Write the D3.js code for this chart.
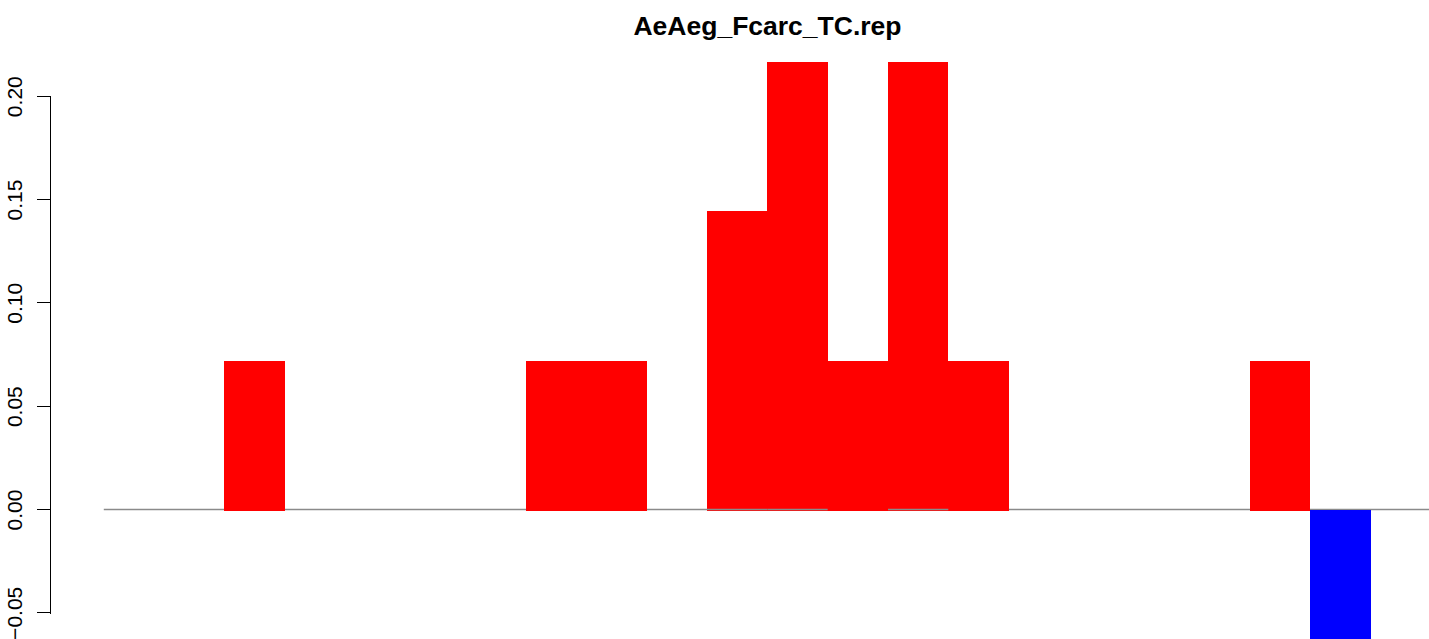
<!DOCTYPE html>
<html>
<head>
<meta charset="utf-8">
<script src="https://cdn.jsdelivr.net/npm/d3@7"></script>
<style>
  html, body { margin: 0; padding: 0; background: #fff; }
  svg { display: block; }
</style>
</head>
<body>
<svg id="chart" width="1429" height="639"></svg>
<script>
// ---- data ----
const title = "AeAeg_Fcarc_TC.rep";
const categories = d3.range(22).map(i => "b" + (i + 1));
const values = [0, 0, 0.0722, 0, 0, 0, 0, 0.0722, 0.0722, 0, 0.1445, 0.2167, 0.0722, 0.2167, 0.0722, 0, 0, 0, 0, 0.0722, -0.0725, 0];
const yTicks = [-0.05, 0, 0.05, 0.10, 0.15, 0.20];
const yTickLabels = ["\u22120.05", "0.00", "0.05", "0.10", "0.15", "0.20"];
const lineOverBars = [10, 11, 13];
const posColor = "#ff0000";
const negColor = "#0000ff";

// ---- layout ----
const svg = d3.select("#chart");

const x = d3.scaleLinear().domain([-0.88, categories.length + 0.88]).range([50.7, 1484]);
const y = d3.scaleLinear().domain([0, 0.2]).range([510, 96.7]);
const zeroLineY = Math.round(y(0)) - 0.5;

// zero line
svg.append("line")
  .attr("x1", x(0)).attr("x2", x(categories.length))
  .attr("y1", zeroLineY).attr("y2", zeroLineY)
  .attr("stroke", "#8a8a8a").attr("stroke-width", 1.3);

// bars
svg.append("g").selectAll("rect")
  .data(values.map((v, i) => ({ v, i })).filter(d => d.v !== 0))
  .join("rect")
  .attr("x", d => x(d.i))
  .attr("width", d => x(d.i + 1) - x(d.i))
  .attr("y", d => d.v >= 0 ? y(d.v) : y(0) - 0.4)
  .attr("height", d => d.v >= 0 ? y(0) + 0.7 - y(d.v) : y(d.v) - y(0) + 0.4)
  .attr("fill", d => d.v >= 0 ? posColor : negColor)
  .attr("shape-rendering", "crispEdges");

// zero line drawn over some bars
svg.append("g").selectAll("line")
  .data(lineOverBars)
  .join("line")
  .attr("x1", i => x(i)).attr("x2", i => x(i + 1))
  .attr("y1", zeroLineY).attr("y2", zeroLineY)
  .attr("stroke", "#8a8a8a").attr("stroke-width", 1.3);

// y axis
const axisX = 50.5;
const gy = svg.append("g").attr("shape-rendering", "crispEdges");
gy.append("line")
  .attr("x1", axisX).attr("x2", axisX)
  .attr("y1", Math.round(y(yTicks[0])) + 0.5).attr("y2", Math.round(y(yTicks[yTicks.length - 1])) - 0.5)
  .attr("stroke", "#000").attr("stroke-width", 1.2);
gy.selectAll("line.tick")
  .data(yTicks)
  .join("line")
  .attr("class", "tick")
  .attr("x1", 37).attr("x2", axisX)
  .attr("y1", d => Math.round(y(d)) - 0.5).attr("y2", d => Math.round(y(d)) - 0.5)
  .attr("stroke", "#000").attr("stroke-width", 1.2);
gy.selectAll("text")
  .data(yTicks)
  .join("text")
  .attr("transform", d => `translate(22,${y(d)}) rotate(-90)`)
  .attr("text-anchor", "middle")
  .attr("font-family", "'Liberation Sans', Arial, sans-serif")
  .attr("font-size", 21)
  .attr("fill", "#000")
  .text((d, i) => yTickLabels[i]);

// title
svg.append("text")
  .attr("x", 767.5).attr("y", 35)
  .attr("text-anchor", "middle")
  .attr("font-family", "'Liberation Sans', Arial, sans-serif")
  .attr("font-weight", "bold")
  .attr("font-size", 26.5)
  .attr("fill", "#000")
  .text(title);
</script>
</body>
</html>
